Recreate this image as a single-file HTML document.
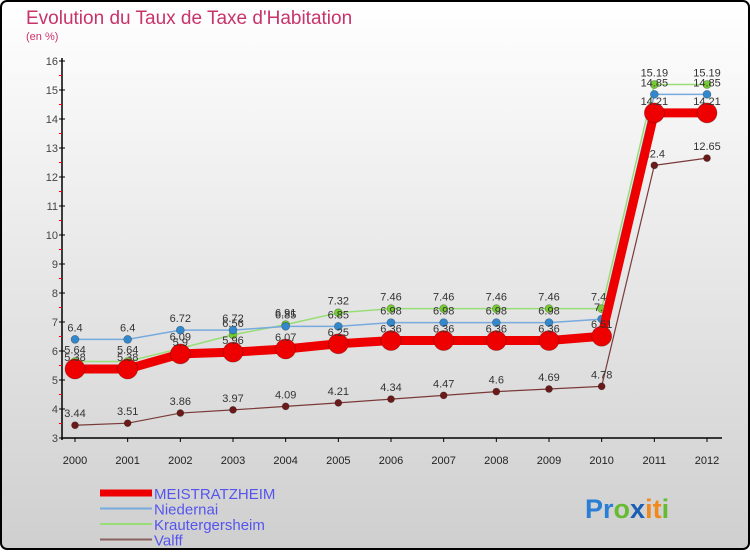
<!DOCTYPE html>
<html><head><meta charset="utf-8"><style>
body{margin:0;}
#c{width:750px;height:550px;}
text{font-family:"Liberation Sans",sans-serif;}
</style></head><body>
<svg id="c" width="750" height="550" xmlns="http://www.w3.org/2000/svg">
<defs><linearGradient id="bg" x1="0" y1="0" x2="0" y2="1"><stop offset="0" stop-color="#ffffff"/><stop offset="1" stop-color="#cfcfcf"/></linearGradient></defs>
<rect x="1" y="1" width="748" height="548" rx="6" fill="url(#bg)" stroke="#000" stroke-width="2"/>
<text x="26" y="24" font-size="19" fill="#c8336a">Evolution du Taux de Taxe d'Habitation</text>
<text x="26" y="40" font-size="11" fill="#c8336a">(en %)</text>
<g id="axes"></g><g id="series"></g><g id="legend"></g>
<text x="585" y="518" font-size="27" font-weight="bold"><tspan fill="#2a7fd4">Pr</tspan><tspan fill="#66bb33">o</tspan><tspan fill="#1a5fb4">x</tspan><tspan fill="#f08a1c">it</tspan><tspan fill="#66bb33">i</tspan></text>
</svg>
<script>
const years=[2000,2001,2002,2003,2004,2005,2006,2007,2008,2009,2010,2011,2012];
const yTicks=[3,4,5,6,7,8,9,10,11,12,13,14,15,16];
const meistratzheim=[5.38,5.38,5.9,5.96,6.07,6.25,6.36,6.36,6.36,6.36,6.51,14.21,14.21];
const niedernai=[6.4,6.4,6.72,6.72,6.85,6.85,6.98,6.98,6.98,6.98,7.1,14.85,14.85];
const krautergersheim=[5.64,5.64,6.09,6.56,6.91,7.32,7.46,7.46,7.46,7.46,7.46,15.19,15.19];
const valff=[3.44,3.51,3.86,3.97,4.09,4.21,4.34,4.47,4.6,4.69,4.78,12.4,12.65];
const NS="http://www.w3.org/2000/svg";
const X=i=>75+i*(707-75)/(years.length-1);
const Y=v=>438-(v-3)*(438-61)/13;
function mk(tag,attrs,parent){const e=document.createElementNS(NS,tag);for(const k in attrs)e.setAttribute(k,attrs[k]);parent.appendChild(e);return e;}
const ax=document.getElementById('axes');
let l=mk('line',{x1:62,y1:58,x2:62,y2:440,stroke:'#000','stroke-width':1.5},ax);


l=mk('line',{x1:62,y1:438,x2:722,y2:438,stroke:'#000','stroke-width':1.5},ax);


yTicks.forEach(v=>{
  mk('line',{x1:59,y1:Y(v),x2:65,y2:Y(v),stroke:'#000'},ax);
  if(v<16) mk('line',{x1:59,y1:Y(v+0.5),x2:62,y2:Y(v+0.5),stroke:'#f00'},ax);
  const t=mk('text',{x:58,y:Y(v)+4,'text-anchor':'end','font-size':11,fill:'#444'},ax);
  t.textContent=v;
  
  
});
years.forEach((yr,i)=>{
  mk('line',{x1:X(i),y1:438,x2:X(i),y2:442,stroke:'#000'},ax);
  const t=mk('text',{x:X(i),y:464,'text-anchor':'middle','font-size':11,fill:'#222'},ax);
  t.textContent=yr;
  
  
});
const sg=document.getElementById('series');
function series(name,vals,color,w,r,dot,key){
  const g=mk('g',{},sg);
  
  
  const p=mk('polyline',{points:vals.map((v,i)=>X(i)+','+Y(v)).join(' '),fill:'none',stroke:color,'stroke-width':w,'stroke-linejoin':'round'},g);
  
  
  vals.forEach((v,i)=>{
    const c=mk('circle',{cx:X(i),cy:Y(v),r:r,fill:dot,stroke:'rgba(0,0,0,0.3)','stroke-width':0.7},g);
    
    
    const t=mk('text',{x:X(i),y:Y(v)-8,'text-anchor':'middle','font-size':11,fill:'#333'},g);
    t.textContent=v;
    
    
  });
}
series('Valff',valff,'#7a3a3a',1.2,3.5,'#6b1a1a','valff');
series('Krautergersheim',krautergersheim,'#99dd77',1.5,4,'#77cc33','krautergersheim');
series('Niedernai',niedernai,'#77aadd',1.5,4,'#3388cc','niedernai');
series('MEISTRATZHEIM',meistratzheim,'#ee0000',9,10,'#ee0000','meistratzheim');
const lg=document.getElementById('legend');
[['MEISTRATZHEIM','#ee0000',7],['Niedernai','#77aadd',2],['Krautergersheim','#99dd77',2],['Valff','#8a6060',2]].forEach((e,i)=>{
  const y=493+i*15.5;
  const ln=mk('line',{x1:100,y1:y,x2:152,y2:y,stroke:e[1],'stroke-width':e[2]},lg);
  
  
  const t=mk('text',{x:154,y:y+6,'font-size':15,fill:'#5555ee'},lg);
  t.textContent=e[0];
  
  
});
</script>
</body></html>
